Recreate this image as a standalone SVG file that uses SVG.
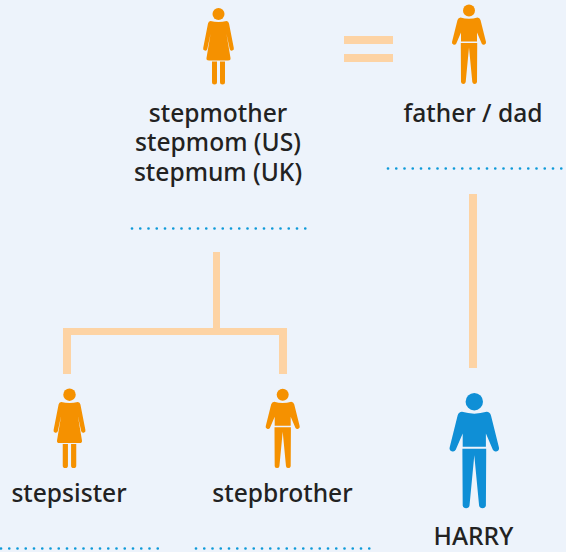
<svg xmlns="http://www.w3.org/2000/svg" width="566" height="552" viewBox="0 0 566 552">
<style>
.t{font-family:"Noto Sans","Open Sans",sans-serif;font-size:24.6px;font-weight:500;fill:#222;text-anchor:middle}
.bar{fill:#fdd3a4}
.dot{fill:none;stroke:#0f9ad9;stroke-width:2.7;stroke-linecap:round;stroke-dasharray:0.01 8.24}
.o{fill:#f59100}
.b{fill:#0f8fd6}
</style>
<defs>
<g id="man">
<circle cx="0" cy="0" r="6"/>
<path d="M-8.5,7 Q0,9.5 8.500,7 Q10.700,7 11.500,9.500 L17,31.500 A2.300,2.300 0 0 1 12.800,33.200 L8,22 L8,31 L-8,31 L-8,22 L-12.800,33.200 A2.300,2.300 0 0 1 -17,31.500 L-11.500,9.500 Q-10.700,7 -8.500,7Z"/>
<path d="M-8.200,32.500 L8.200,32.500 L8.200,37 L8,71.500 A2.400,2.400 0 0 1 3.300,71.500 L0,37 L-3.300,71.500 A2.400,2.400 0 0 1 -8,71.500 L-8.200,37Z"/>
</g>
<g id="woman">
<circle cx="0" cy="0" r="6"/>
<path d="M-8,7 Q0,9 8,7 Q10,7 10.500,9.500 L15.300,34 A2.100,2.100 0 0 1 11.200,35 L8,20 L12,44 Q12.400,46.500 9.500,46.500 L-9.500,46.500 Q-12.400,46.500 -12,44 L-8,20 L-11.200,35 A2.100,2.100 0 0 1 -15.300,34 L-10.500,9.500 Q-10,7 -8,7Z"/>
<path d="M-6.500,47.500 L-1.500,47.500 L-1.500,68 A2.500,2.500 0 0 1 -6.500,68Z M1.500,47.500 L6.500,47.500 L6.500,68 A2.500,2.500 0 0 1 1.500,68Z"/>
</g>
</defs>
<rect width="566" height="552" fill="#edf3fb"/>
<g id="connectors">
<rect class="bar" x="344" y="36" width="49" height="8"/>
<rect class="bar" x="344" y="54" width="49" height="8"/>
<rect class="bar" x="469" y="194" width="8" height="174"/>
<rect class="bar" x="213" y="252" width="7" height="78"/>
<path class="bar" d="M63,328H287V374H279V335H71V374H63Z"/>
</g>
<g id="dots">
<path class="dot" d="M132,228.500H307"/>
<path class="dot" d="M388,168.500H563"/>
<path class="dot" d="M1,548.500H158"/>
<path class="dot" d="M196,548.500H371"/>
</g>
<g id="stepmother">
<use href="#woman" class="o" transform="translate(218.500,14)"/>
<text class="t" x="218" y="122">stepmother</text>
<text class="t" x="218" y="151">stepmom (US)</text>
<text class="t" x="218" y="181">stepmum (UK)</text>
</g>
<g id="father">
<use href="#man" class="o" transform="translate(469,10.500)"/>
<text class="t" x="473" y="122">father / dad</text>
</g>
<g id="stepsister">
<use href="#woman" class="o" transform="translate(69.500,394.700) scale(1.04)"/>
<text class="t" x="69" y="502">stepsister</text>
</g>
<g id="stepbrother">
<use href="#man" class="o" transform="translate(282.700,394.700)"/>
<text class="t" x="282.500" y="502">stepbrother</text>
</g>
<g id="harry">
<use href="#man" class="b" transform="translate(474.300,401.700) scale(1.45)"/>
<text class="t" x="473.500" y="545">HARRY</text>
</g>
</svg>
